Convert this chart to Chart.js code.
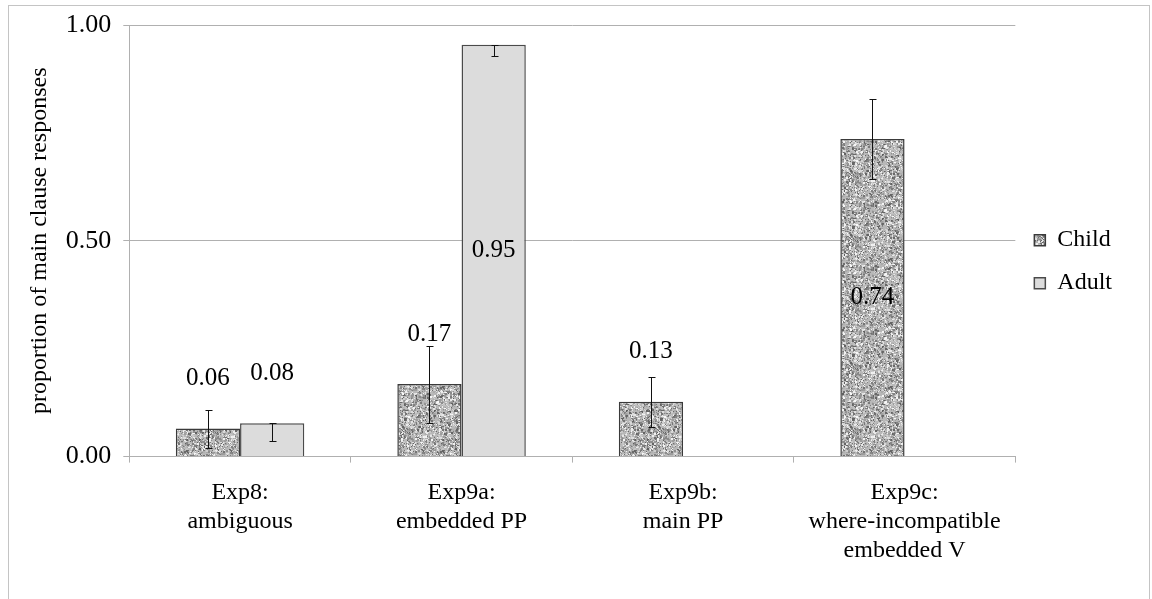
<!DOCTYPE html>
<html>
<head>
<meta charset="utf-8">
<script src="https://cdn.jsdelivr.net/npm/chart.js@4.4.1/dist/chart.umd.min.js"></script>
<style>
  html, body { margin: 0; padding: 0; background: #fff; }
  #wrap { width: 1152px; height: 599px; position: relative; }
</style>
</head>
<body>
<div id="wrap"><canvas id="barChart" width="1152" height="599"></canvas></div>
<script>
var categories = [
    ['Exp8:', 'ambiguous'],
    ['Exp9a:', 'embedded PP'],
    ['Exp9b:', 'main PP'],
    ['Exp9c:', 'where-incompatible', 'embedded V']
];
var seriesNames = ['Child', 'Adult'];
var childValues = [0.065, 0.168, 0.127, 0.736];
var adultValues = [0.077, 0.954, null, null];
var childLabels = ['0.06', '0.17', '0.13', '0.74'];
var adultLabels = ['0.08', '0.95', '', ''];
var childErrLow = [0.021, 0.079, 0.069, 0.643];
var childErrHigh = [0.108, 0.257, 0.184, 0.829];
var adultErrLow = [0.037, 0.928, null, null];
var adultErrHigh = [0.079, 0.954, null, null];
var yTicks = [0, 0.5, 1.0];

var serif = "'Liberation Serif', 'Times New Roman', serif";

// speckled grey fill like the office "granite" texture
function granitePattern() {
    'use strict';
    var c = document.createElement('canvas');
    c.width = 64;
    c.height = 64;
    var g = c.getContext('2d');
    g.fillStyle = '#b8b8b8';
    g.fillRect(0, 0, 64, 64);
    var seed = 12345;
    function next() {
        seed = (seed * 16807) % 2147483647;
        return seed / 2147483647;
    }
    for (var i = 0; i < 2600; i++) {
        var v = Math.floor(95 + next() * 155);
        var s = next() < 0.35 ? 2 : 1;
        g.fillStyle = 'rgb(' + v + ',' + v + ',' + v + ')';
        g.fillRect(Math.floor(next() * 64), Math.floor(next() * 64), s, s);
    }
    return g.createPattern(c, 'repeat');
}

var errorBars = {
    id: 'errorBars',
    afterDatasetsDraw: function (chart) {
        var ctx = chart.ctx;
        var y = chart.scales.y;
        var lows = [childErrLow, adultErrLow];
        var highs = [childErrHigh, adultErrHigh];
        ctx.save();
        ctx.strokeStyle = '#111';
        ctx.lineWidth = 1;
        chart.data.datasets.forEach(function (ds, di) {
            var meta = chart.getDatasetMeta(di);
            meta.data.forEach(function (bar, i) {
                if (lows[di][i] === null) { return; }
                var x = Math.round(bar.x) + 0.5;
                var y1 = Math.round(y.getPixelForValue(highs[di][i])) + 0.5;
                var y2 = Math.round(y.getPixelForValue(lows[di][i])) + 0.5;
                ctx.beginPath();
                ctx.moveTo(x, y1); ctx.lineTo(x, y2);
                ctx.moveTo(x - 3, y1); ctx.lineTo(x + 4, y1);
                ctx.moveTo(x - 3, y2); ctx.lineTo(x + 4, y2);
                ctx.stroke();
            });
        });
        ctx.restore();
    }
};

var valueLabels = {
    id: 'valueLabels',
    afterDatasetsDraw: function (chart) {
        var ctx = chart.ctx;
        var labels = [childLabels, adultLabels];
        ctx.save();
        ctx.fillStyle = '#000';
        ctx.font = '25px ' + serif;
        ctx.textAlign = 'center';
        ctx.textBaseline = 'middle';
        chart.data.datasets.forEach(function (ds, di) {
            var meta = chart.getDatasetMeta(di);
            meta.data.forEach(function (bar, i) {
                var txt = labels[di][i];
                if (!txt) { return; }
                var v = ds.data[i];
                var ty = v > 0.5 ? (bar.y + bar.base) / 2 : bar.y - 50;
                ctx.fillText(txt, bar.x, ty);
            });
        });
        ctx.restore();
    }
};

var frame = {
    id: 'frame',
    beforeDraw: function (chart) {
        var ctx = chart.ctx;
        ctx.save();
        ctx.strokeStyle = '#c4c4c4';
        ctx.lineWidth = 1;
        ctx.strokeRect(8.5, 5.5, 1141, 620);
        ctx.restore();
    }
};

var ctx = document.getElementById('barChart').getContext('2d');
var barChart = new Chart(ctx, {
    type: 'bar',
    data: {
        labels: categories,
        datasets: [{
            label: seriesNames[0],
            data: childValues,
            backgroundColor: granitePattern(),
            borderColor: '#3a3a3a',
            borderWidth: 1.5
        }, {
            label: seriesNames[1],
            data: adultValues,
            backgroundColor: '#dcdcdc',
            borderColor: '#4a4a4a',
            borderWidth: 1.5
        }]
    },
    options: {
        responsive: false,
        animation: false,
        devicePixelRatio: 1,
        layout: { padding: { top: 6, left: 16, right: 30, bottom: 18 } },
        datasets: { bar: { categoryPercentage: 0.58, barPercentage: 1.0 } },
        plugins: {
            legend: {
                position: 'right',
                fullSize: false,
                title: {
                    display: true,
                    text: ' ',
                    font: { family: serif, size: 24 },
                    padding: { top: 13, bottom: 0 }
                },
                labels: {
                    font: { family: serif, size: 24 },
                    color: '#000',
                    boxWidth: 11,
                    boxHeight: 11,
                    padding: 19
                }
            },
            tooltip: { enabled: false }
        },
        scales: {
            x: {
                grid: { drawOnChartArea: false, drawTicks: true, tickLength: 6, color: '#b0b0b0', offset: true },
                border: { color: '#b0b0b0' },
                ticks: { font: { family: serif, size: 24 }, color: '#000', padding: 16, maxRotation: 0 }
            },
            y: {
                min: 0,
                max: 1,
                afterBuildTicks: function (axis) {
                    axis.ticks = yTicks.map(function (v) { return { value: v }; });
                },
                grid: { color: '#b0b0b0', tickLength: 6 },
                border: { color: '#b0b0b0' },
                ticks: {
                    font: { family: serif, size: 26, lineHeight: 1 },
                    color: '#000',
                    padding: 12,
                    callback: function (v) { return Number(v).toFixed(2); }
                },
                title: {
                    display: true,
                    text: 'proportion of main clause responses',
                    font: { family: serif, size: 24 },
                    color: '#000',
                    padding: { top: 9, bottom: 0 }
                }
            }
        }
    },
    plugins: [frame, errorBars, valueLabels]
});
</script>
</body>
</html>
